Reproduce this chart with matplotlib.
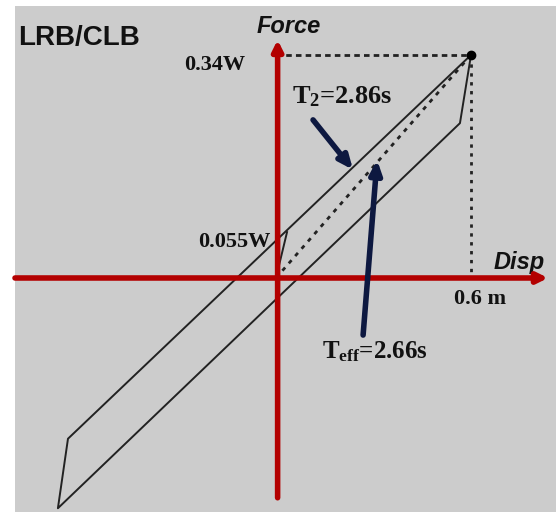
import matplotlib.pyplot as plt

plt.rcParams['mathtext.fontset'] = 'custom'
plt.rcParams['mathtext.rm'] = 'Liberation Serif:bold'
plt.rcParams['mathtext.it'] = 'Liberation Serif:italic:bold'
plt.rcParams['mathtext.bf'] = 'Liberation Serif:bold'

# bilinear hysteresis loop (disp in m, force in W)
loop_disp = [0.6, 0.566, -0.671, -0.64, 0.6]
loop_force = [0.34, 0.236, -0.351, -0.245, 0.34]
# initial loading up to yield
init_disp = [0.0, 0.034]
init_force = [0.0, 0.070]
# peak point
d_max = 0.6
f_max = 0.34
q_char = 0.055

fig = plt.figure(figsize=(5.56, 5.12), dpi=100, facecolor='white')
ax = fig.add_axes([15/556, 0, 1 - 15/556, 506/512])
ax.set_facecolor('#cccccc')
ax.set_xlim(-0.803, 0.8615)
ax.set_ylim(-0.3567, 0.4146)
ax.set_xticks([])
ax.set_yticks([])
for s in ax.spines.values():
    s.set_visible(False)

red = '#b30000'
navy = '#0d1840'
ink = '#222222'

# loop and loading branch
ax.plot(loop_disp, loop_force, color=ink, lw=1.4, zorder=3)
ax.plot(init_disp, init_force, color=ink, lw=1.4, zorder=3)

# secant (effective stiffness) and guide lines
ax.plot([0, d_max], [0, f_max], color=ink, lw=2, ls=(0, (1.5, 2)), zorder=3)
ax.plot([0, d_max], [f_max, f_max], color=ink, lw=2, ls=(0, (2, 1.5)), zorder=3)
ax.plot([d_max, d_max], [f_max, 0], color=ink, lw=2, ls=(0, (1.2, 2)), zorder=3)
ax.plot([d_max], [f_max], 'o', color='black', ms=6, zorder=5)

# axes drawn as red arrows
ax.annotate('', xy=(0.837, 0), xytext=(-0.803, 0),
            arrowprops=dict(arrowstyle='-|>,head_length=0.6,head_width=0.3',
                            color=red, lw=4, shrinkA=0, shrinkB=0), zorder=4)
ax.annotate('', xy=(0.005, 0.363), xytext=(0.005, -0.335),
            arrowprops=dict(arrowstyle='-|>,head_length=0.6,head_width=0.3',
                            color=red, lw=4, shrinkA=0, shrinkB=0), zorder=4)

# period pointers
ax.annotate('', xy=(0.237, 0.165), xytext=(0.114, 0.241),
            arrowprops=dict(arrowstyle='-|>,head_length=0.8,head_width=0.35',
                            color=navy, lw=4, shrinkA=0, shrinkB=0), zorder=6)
ax.annotate('', xy=(0.311, 0.18), xytext=(0.268, -0.087),
            arrowprops=dict(arrowstyle='-|>,head_length=0.8,head_width=0.35',
                            color=navy, lw=4, shrinkA=0, shrinkB=0), zorder=6)

sans = ['Liberation Sans', 'DejaVu Sans']
serif = ['Liberation Serif', 'DejaVu Serif']
ax.text(-0.794, 0.366, 'LRB/CLB', fontsize=20, fontweight='bold', family=sans,
        ha='left', va='center', color='#111111')
ax.text(0.04, 0.383, 'Force', fontsize=17, fontweight='bold', style='italic',
        family=sans, ha='center', va='center', color='#111111')
ax.text(0.668, 0.024, 'Disp', fontsize=17, fontweight='bold', style='italic',
        family=sans, ha='left', va='center', color='#111111')
ax.text(-0.188, 0.325, '0.34W', fontsize=16, fontweight='bold', family=serif,
        ha='center', va='center', color='#111111')
ax.text(-0.018, q_char, '0.055W', fontsize=16, fontweight='bold', family=serif,
        ha='right', va='center', color='#111111')
ax.text(0.628, -0.032, '0.6 m', fontsize=16, fontweight='bold', family=serif,
        ha='center', va='center', color='#111111')
ax.text(0.049, 0.277, r'T$_\mathrm{2}$=2.86s', fontsize=19, fontweight='bold',
        family=serif, ha='left', va='center', color='#111111')
ax.text(0.305, -0.113, r'T$_\mathrm{eff}$=2.66s', fontsize=18, fontweight='bold',
        family=serif, ha='center', va='center', color='#111111')

fig.savefig('out.png', dpi=100, facecolor='white')
